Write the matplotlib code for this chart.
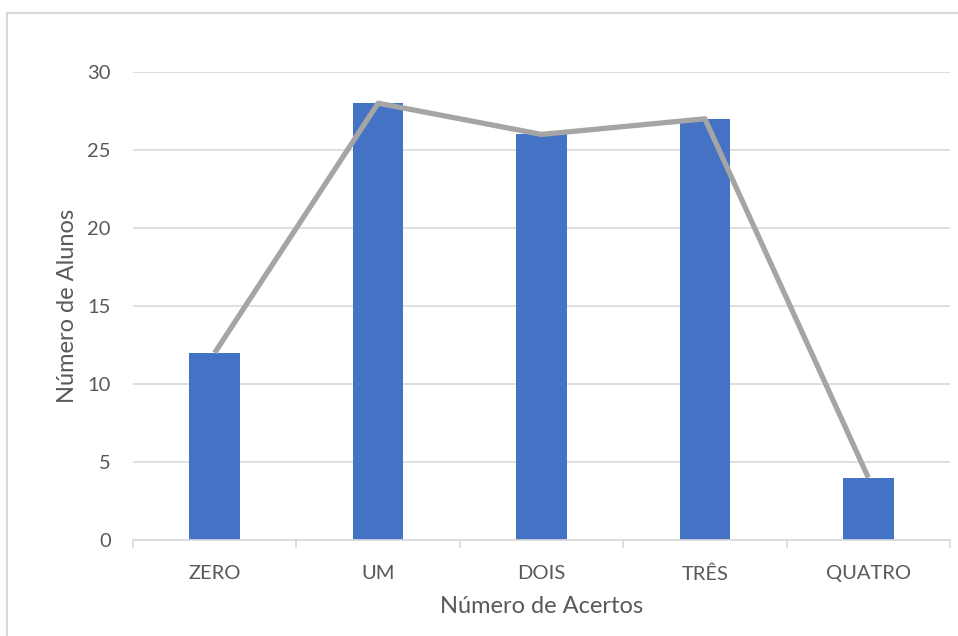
import matplotlib.pyplot as plt
from matplotlib.lines import Line2D
import numpy as np

categorias = ["ZERO", "UM", "DOIS", "TRÊS", "QUATRO"]
alunos = [12, 28, 26, 27, 4]

plt.rcParams['font.family'] = ['Lato', 'DejaVu Sans']
texto = '#595959'

fig = plt.figure(figsize=(9.58, 6.36), dpi=100)
ax = fig.add_axes([133 / 958, 96 / 636, 817 / 958, 468 / 636])

x = np.arange(len(categorias))
ax.bar(x, alunos, width=0.31, color='#4472C4', zorder=2)
ax.plot(x, alunos, color='#A5A5A5', linewidth=3.8, zorder=3, solid_capstyle='butt')

ax.set_xlim(-0.5, len(categorias) - 0.5)
ax.set_ylim(0, 30)
ax.set_yticks(range(0, 31, 5))
ax.yaxis.grid(True, color='#D9D9D9', linewidth=1.2, zorder=0)
ax.set_axisbelow(True)

for s in ['top', 'right', 'left']:
    ax.spines[s].set_visible(False)
ax.spines['bottom'].set_color('#D9D9D9')
ax.spines['bottom'].set_linewidth(1.2)

# category labels at centres, tick marks at the boundaries
ax.set_xticks(x)
ax.set_xticklabels(categorias)
ax.set_xticks(np.arange(-0.5, len(categorias)), minor=True)
ax.tick_params(axis='x', which='major', length=0, pad=18, labelsize=14.5, labelcolor=texto)
ax.tick_params(axis='x', which='minor', length=6, width=1.2, color='#D9D9D9')
ax.tick_params(axis='y', length=0, pad=16, labelsize=14.5, labelcolor=texto)

ax.set_xlabel("Número de Acertos", fontsize=17, color=texto, labelpad=10)
ax.set_ylabel("Número de Alunos", fontsize=17, color=texto, labelpad=7)

# chart border (Excel style)
borda = '#D9D9D9'
fig.add_artist(Line2D([7 / 958, 7 / 958], [0, 1 - 13 / 636], transform=fig.transFigure, color=borda, lw=1.5))
fig.add_artist(Line2D([7 / 958, 1], [1 - 13 / 636, 1 - 13 / 636], transform=fig.transFigure, color=borda, lw=1.5))

fig.savefig('out.png', dpi=100)
